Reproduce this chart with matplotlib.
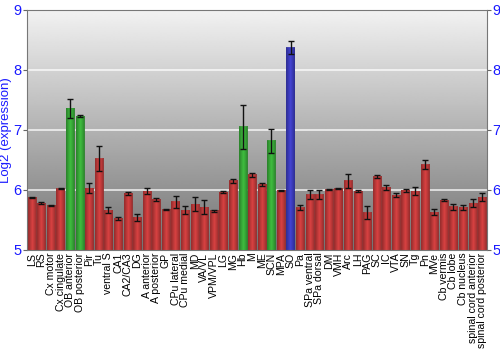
import matplotlib

matplotlib.use("Agg")
import matplotlib.pyplot as plt
import numpy as np
from matplotlib.colors import LinearSegmentedColormap, to_rgb

plt.rcParams["font.family"] = ["Liberation Sans", "DejaVu Sans"]

regions = [
    "LS", "RS", "Cx motor", "Cx cingulate", "OB anterior", "OB posterior", "Pir", "Tu",
    "ventral S", "CA1", "CA2/CA3", "DG", "A anterior", "A posterior", "GP", "CPu lateral",
    "CPu medial", "MD", "VA/VL", "VPM/VPL", "LG", "MG", "Hb", "M", "ME", "SCN", "MPA", "SO",
    "Pa", "SPa ventral", "SPa dorsal", "DM", "VMH", "Arc", "LH", "PAG", "SC", "IC", "VTA",
    "SN", "Tg", "Pn", "MVe", "Cb vermis", "Cb lobe", "Cb nucleus",
    "spinal cord anterior", "spinal cord posterior",
]
expression = [
    5.87, 5.78, 5.74, 6.02, 7.36, 7.23, 6.03, 6.52,
    5.66, 5.52, 5.94, 5.54, 5.98, 5.84, 5.67, 5.80,
    5.66, 5.76, 5.71, 5.65, 5.96, 6.15, 7.05, 6.25, 6.09, 6.82, 5.99, 8.37,
    5.70, 5.92, 5.92, 6.00, 6.02, 6.15, 5.98, 5.62, 6.22, 6.04, 5.91,
    5.99, 5.98, 6.42, 5.63, 5.83, 5.72, 5.71,
    5.78, 5.88,
]
errors = [
    0.01, 0.02, 0.01, 0.01, 0.16, 0.01, 0.08, 0.21,
    0.05, 0.02, 0.03, 0.06, 0.05, 0.02, 0.01, 0.10,
    0.07, 0.12, 0.12, 0.02, 0.02, 0.03, 0.37, 0.03, 0.02, 0.20, 0.01, 0.11,
    0.04, 0.07, 0.07, 0.01, 0.01, 0.12, 0.01, 0.11, 0.03, 0.04, 0.03,
    0.02, 0.06, 0.07, 0.05, 0.02, 0.05, 0.04,
    0.06, 0.06,
]
groups = ["r"] * 48
for name in ["OB anterior", "OB posterior", "Hb", "SCN"]:
    groups[regions.index(name)] = "g"
groups[regions.index("SO")] = "b"

base_colors = {"r": "#c03a3a", "g": "#38a838", "b": "#3c3cbc"}
blue_text = "#1a1aff"

fig = plt.figure(figsize=(5, 3.5), dpi=100)
ax = fig.add_axes([0.054, 0.286, 0.920, 0.686])

# grey gradient background
bg = np.linspace(0.45, 0.95, 256).reshape(-1, 1)
ax.imshow(bg, cmap="gray", vmin=0, vmax=1, aspect="auto", origin="lower",
          extent=(0, 1, 0, 1), transform=ax.transAxes, zorder=0)

x = np.arange(len(regions))
bars = ax.bar(x, np.array(expression) - 5, bottom=5, width=0.86,
              color=[base_colors[g] for g in groups], zorder=2)

# horizontal shading on each bar: darker edges, lighter centre
for bar, g in zip(bars, groups):
    c = np.array(to_rgb(base_colors[g]))
    cmap = LinearSegmentedColormap.from_list(
        g, [c * 0.75, np.clip(c * 1.15, 0, 1), c * 0.75])
    x0, y0 = bar.get_x(), bar.get_y()
    ax.imshow(np.linspace(0, 1, 32).reshape(1, -1), cmap=cmap, aspect="auto",
              extent=(x0, x0 + bar.get_width(), y0, y0 + bar.get_height()),
              zorder=2.5, alpha=0.9)

ax.errorbar(x, expression, yerr=errors, fmt="none", ecolor="#111111",
            elinewidth=1.0, capsize=2.2, capthick=1.0, zorder=3)

for yv in [6, 7, 8]:
    ax.axhline(yv, color="white", lw=1.2, alpha=0.8, zorder=1)

ax.set_xlim(-0.5, len(regions) - 0.5)
ax.set_ylim(5, 9)
ax.set_yticks([5, 6, 7, 8, 9])
ax.tick_params(axis="y", colors="#666666", labelcolor=blue_text, labelsize=10.5,
               direction="out", length=3, pad=1, right=True, labelright=True)
ax.set_xticks(x, regions, rotation=90, fontsize=7.6)
ax.tick_params(axis="x", length=0, pad=2)
for side in ["left", "right", "top", "bottom"]:
    ax.spines[side].set_color("#777777")
ax.set_ylabel("Log2 (expression)", color=blue_text, fontsize=9.5, labelpad=1)

fig.savefig("out.png", dpi=100)
plt.close(fig)
